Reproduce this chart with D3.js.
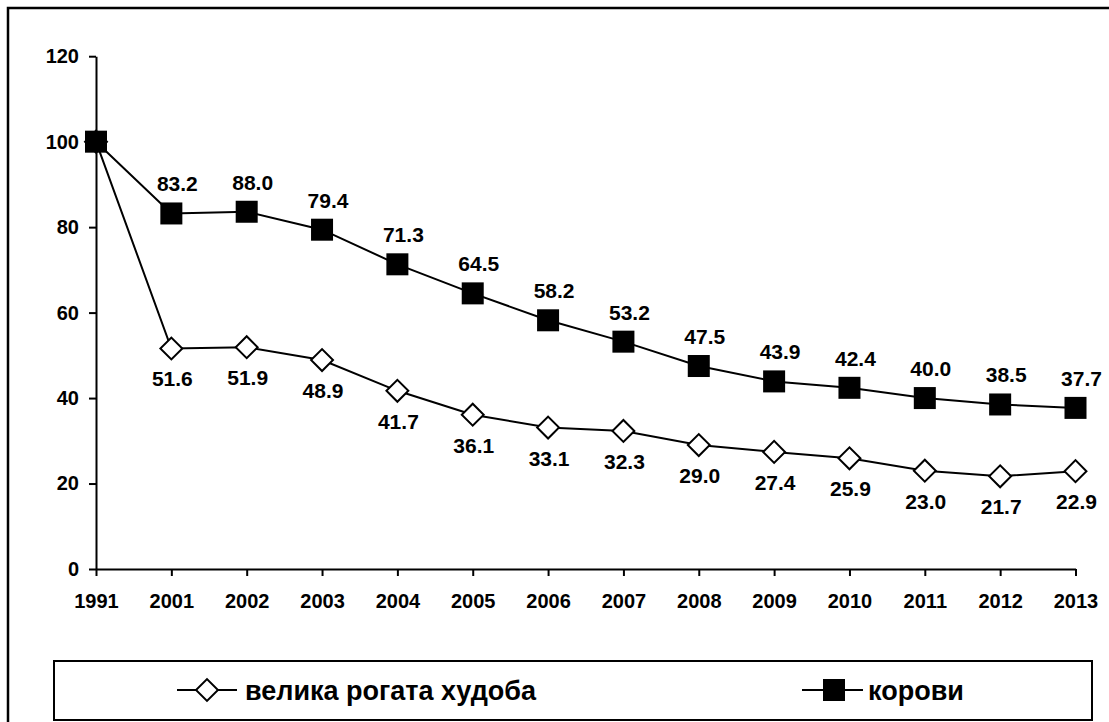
<!DOCTYPE html>
<html>
<head>
<meta charset="utf-8">
<script src="https://cdn.jsdelivr.net/npm/d3@7"></script>
<style>
	html, body { margin: 0; padding: 0; background: #fff; }
	svg { display: block; font-family: Arial, "Liberation Sans", sans-serif; font-weight: bold; }
</style>
</head>
<body>
<div id="chart"></div>
<script>
// data
const years = ['1991', '2001', '2002', '2003', '2004', '2005', '2006', '2007', '2008', '2009', '2010', '2011', '2012', '2013'];
const cattle = [100, 51.6, 51.9, 48.9, 41.7, 36.1, 33.1, 32.3, 29.0, 27.4, 25.9, 23.0, 21.7, 22.9];
const cows = [100, 83.2, 83.6, 79.4, 71.3, 64.5, 58.2, 53.2, 47.5, 43.9, 42.4, 40.0, 38.5, 37.7];
const cattleLabels = ['', '51.6', '51.9', '48.9', '41.7', '36.1', '33.1', '32.3', '29.0', '27.4', '25.9', '23.0', '21.7', '22.9'];
const cowLabels = ['', '83.2', '88.0', '79.4', '71.3', '64.5', '58.2', '53.2', '47.5', '43.9', '42.4', '40.0', '38.5', '37.7'];
const yTicks = [0, 20, 40, 60, 80, 100, 120];
const seriesNames = ['велика рогата худоба', 'корови'];

const width = 1109, height = 722;

const svg = d3.select('#chart').append('svg')
	.attr('width', width)
	.attr('height', height);

// outer frame
svg.append('rect')
	.attr('x', 8).attr('y', 8)
	.attr('width', 1130).attr('height', 740)
	.attr('fill', 'none')
	.attr('stroke', '#000')
	.attr('stroke-width', 2.5);

const x = d3.scalePoint().domain(years).range([96, 1075.5]);
const y = d3.scaleLinear().domain([0, 120]).range([569, 56.2]);

// axes
const yAxis = svg.append('g')
	.attr('transform', 'translate(96,0)')
	.call(d3.axisLeft(y).tickValues(yTicks).tickSize(7).tickPadding(10).tickSizeOuter(0));

const xAxis = svg.append('g')
	.attr('transform', 'translate(0,569)')
	.call(d3.axisBottom(x).tickSize(7).tickPadding(18).tickSizeOuter(0));

[yAxis, xAxis].forEach(a => {
	a.select('.domain').attr('stroke', '#000').attr('stroke-width', 2);
	a.selectAll('.tick line').attr('stroke', '#000').attr('stroke-width', 2);
	a.selectAll('.tick text')
		.attr('fill', '#000')
		.style('font-size', '20px')
		.style('font-weight', 'bold')
		.style('font-family', 'Arial, "Liberation Sans", sans-serif');
});

// lines
const line = d3.line().x((d, i) => x(years[i])).y(d => y(d));

svg.append('path')
	.datum(cattle)
	.attr('d', line)
	.attr('fill', 'none')
	.attr('stroke', '#000')
	.attr('stroke-width', 2);

svg.append('path')
	.datum(cows)
	.attr('d', line)
	.attr('fill', 'none')
	.attr('stroke', '#000')
	.attr('stroke-width', 2);

// markers
const diamond = d3.symbol().type(d3.symbolSquare).size(240);

svg.selectAll('.diamond')
	.data(cattle)
	.enter()
	.append('path')
	.attr('class', 'diamond')
	.attr('d', diamond)
	.attr('transform', (d, i) => 'translate(' + x(years[i]) + ',' + y(d) + ') rotate(45)')
	.attr('fill', '#fff')
	.attr('stroke', '#000')
	.attr('stroke-width', 2);

const sq = 22;
svg.selectAll('.square')
	.data(cows)
	.enter()
	.append('rect')
	.attr('class', 'square')
	.attr('x', (d, i) => x(years[i]) - sq / 2)
	.attr('y', d => y(d) - sq / 2)
	.attr('width', sq)
	.attr('height', sq)
	.attr('fill', '#000');

// data labels
svg.selectAll('.lbl-cow')
	.data(cows)
	.enter()
	.append('text')
	.attr('class', 'lbl-cow')
	.attr('x', (d, i) => x(years[i]) + 6)
	.attr('y', d => y(d) - 22)
	.attr('text-anchor', 'middle')
	.style('font-size', '21px')
	.text((d, i) => cowLabels[i]);

svg.selectAll('.lbl-cattle')
	.data(cattle)
	.enter()
	.append('text')
	.attr('class', 'lbl-cattle')
	.attr('x', (d, i) => x(years[i]) + 1)
	.attr('y', d => y(d) + 38)
	.attr('text-anchor', 'middle')
	.style('font-size', '21px')
	.text((d, i) => cattleLabels[i]);

// legend
const legend = svg.append('g');

legend.append('rect')
	.attr('x', 54).attr('y', 661)
	.attr('width', 1038).attr('height', 59)
	.attr('fill', '#fff')
	.attr('stroke', '#000')
	.attr('stroke-width', 2);

const ly = 690;

legend.append('line')
	.attr('x1', 177).attr('x2', 237)
	.attr('y1', ly).attr('y2', ly)
	.attr('stroke', '#000').attr('stroke-width', 2);
legend.append('path')
	.attr('d', diamond)
	.attr('transform', 'translate(207,' + ly + ') rotate(45)')
	.attr('fill', '#fff')
	.attr('stroke', '#000')
	.attr('stroke-width', 2);
legend.append('text')
	.attr('x', 245).attr('y', ly + 10)
	.style('font-size', '27px')
	.text(seriesNames[0]);

legend.append('line')
	.attr('x1', 802).attr('x2', 863)
	.attr('y1', ly).attr('y2', ly)
	.attr('stroke', '#000').attr('stroke-width', 2);
legend.append('rect')
	.attr('x', 834 - sq / 2).attr('y', ly - sq / 2)
	.attr('width', sq).attr('height', sq)
	.attr('fill', '#000');
legend.append('text')
	.attr('x', 868).attr('y', ly + 10)
	.style('font-size', '27px')
	.text(seriesNames[1]);
</script>
</body>
</html>
